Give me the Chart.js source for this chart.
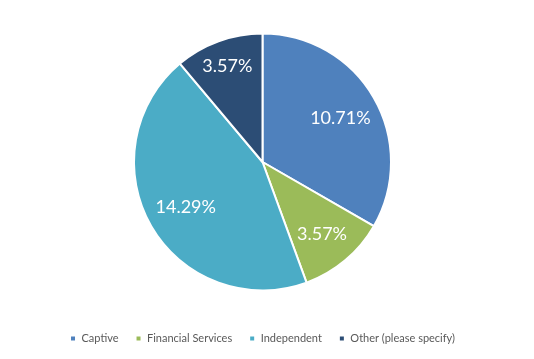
<!DOCTYPE html>
<html><head><meta charset="utf-8">
<script src="https://cdn.jsdelivr.net/npm/chart.js@4"></script>
<style>html,body{margin:0;padding:0;background:#fff}#wrap{width:534px;height:359px}</style>
</head><body><div id="wrap"><canvas id="c" width="534" height="359"></canvas></div>
<script>
const categories = ["Captive", "Financial Services", "Independent", "Other (please specify)"];
const values = [10.71, 3.57, 14.29, 3.57];
const colors = ["#4F81BD", "#9BBB59", "#4BACC6", "#2C4D75"];
// label distance from centre, as a fraction of the radius (style only)
const labelRadiusFactor = [0.70, 0.72, 0.69, 0.80];

const labelPlugin = {
  id: 'sliceLabels',
  afterDatasetsDraw(chart) {
    const ctx = chart.ctx;
    const meta = chart.getDatasetMeta(0);
    ctx.save();
    ctx.fillStyle = '#ffffff';
    ctx.font = '18px Lato, "Open Sans", sans-serif';
    ctx.textAlign = 'center';
    ctx.textBaseline = 'middle';
    meta.data.forEach((arc, i) => {
      const p = arc.getProps(['x','y','startAngle','endAngle','outerRadius'], true);
      const mid = (p.startAngle + p.endAngle) / 2;
      const r = p.outerRadius * labelRadiusFactor[i];
      ctx.fillText(values[i].toFixed(2) + '%', p.x + Math.cos(mid) * r, p.y + Math.sin(mid) * r + 1);
    });
    ctx.restore();
  }
};

new Chart(document.getElementById('c'), {
  type: 'pie',
  data: {
    labels: categories,
    datasets: [{ data: values, backgroundColor: colors, borderColor: '#ffffff', borderWidth: 2, radius: 128.5 }]
  },
  options: {
    responsive: false,
    animation: false,
    layout: { padding: { top: 8, bottom: 5, left: 0, right: 9 } },
    plugins: {
      tooltip: { enabled: false },
      legend: {
        position: 'bottom',
        labels: { boxWidth: 6, boxHeight: 6, padding: 17, color: '#595959', font: { size: 11, family: 'Lato, "Open Sans", sans-serif' } }
      }
    }
  },
  plugins: [labelPlugin]
});
</script></body></html>
